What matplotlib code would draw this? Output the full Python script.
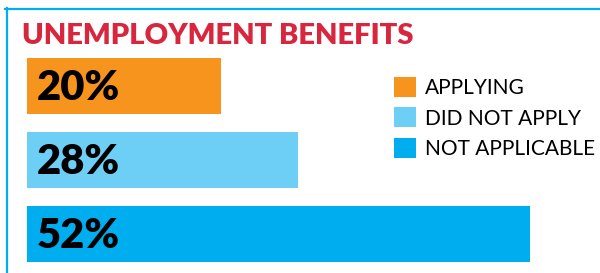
import matplotlib
matplotlib.use("Agg")
import matplotlib.pyplot as plt
from matplotlib.patches import Patch
from matplotlib.lines import Line2D
import numpy as np

# data
categories = ["APPLYING", "DID NOT APPLY", "NOT APPLICABLE"]
values = [20, 28, 52]
labels = ["20%", "28%", "52%"]
colors = ["#F7941D", "#6DCFF6", "#00AEEF"]
title = "UNEMPLOYMENT BENEFITS"

W, H = 600, 273
fig = plt.figure(figsize=(W / 100, H / 100), dpi=100)
fig.patch.set_facecolor("white")

# axes spanning from the bar start to the right edge, full height
px_per_unit = 9.68
x0 = 27
ax = fig.add_axes([x0 / W, 0, (W - x0) / W, 1])
ax.set_xlim(0, (W - x0) / px_per_unit)
spacing = 74.0
first_center = 86.0
ax.set_ylim((H - first_center) / spacing, -first_center / spacing)
ax.axis("off")

ypos = np.arange(len(values))
ax.barh(ypos, values, height=56 / spacing, color=colors, edgecolor="none")

for y, lab in zip(ypos, labels):
    ax.text(1.0, y + 0.03, lab, ha="left", va="center", fontsize=30,
            fontweight="heavy", family="Lato", color="black")

# title
fig.text(22 / W, 1 - 36 / H, title, ha="left", va="center", fontsize=21,
         fontweight="heavy", family="Lato", color="#D7263D")

# legend
handles = [Patch(facecolor=c, edgecolor="none") for c in colors]
leg = ax.legend(handles, categories, loc="upper left",
                bbox_to_anchor=(394 / W, 1 - 77 / H), bbox_transform=fig.transFigure,
                frameon=False, prop={"family": "Lato", "size": 15},
                handlelength=1.05, handleheight=1.1, handletextpad=0.45,
                labelspacing=0.45, borderaxespad=0, borderpad=0)

# blue frame lines
fig.add_artist(Line2D([5 / W, 1], [1 - 8.5 / H, 1 - 8.5 / H],
                      transform=fig.transFigure, color="#00AEEF", lw=1.6))
fig.add_artist(Line2D([6.5 / W, 6.5 / W], [0, 1 - 8 / H],
                      transform=fig.transFigure, color="#00AEEF", lw=1.6))

fig.savefig("out.png", dpi=100)
